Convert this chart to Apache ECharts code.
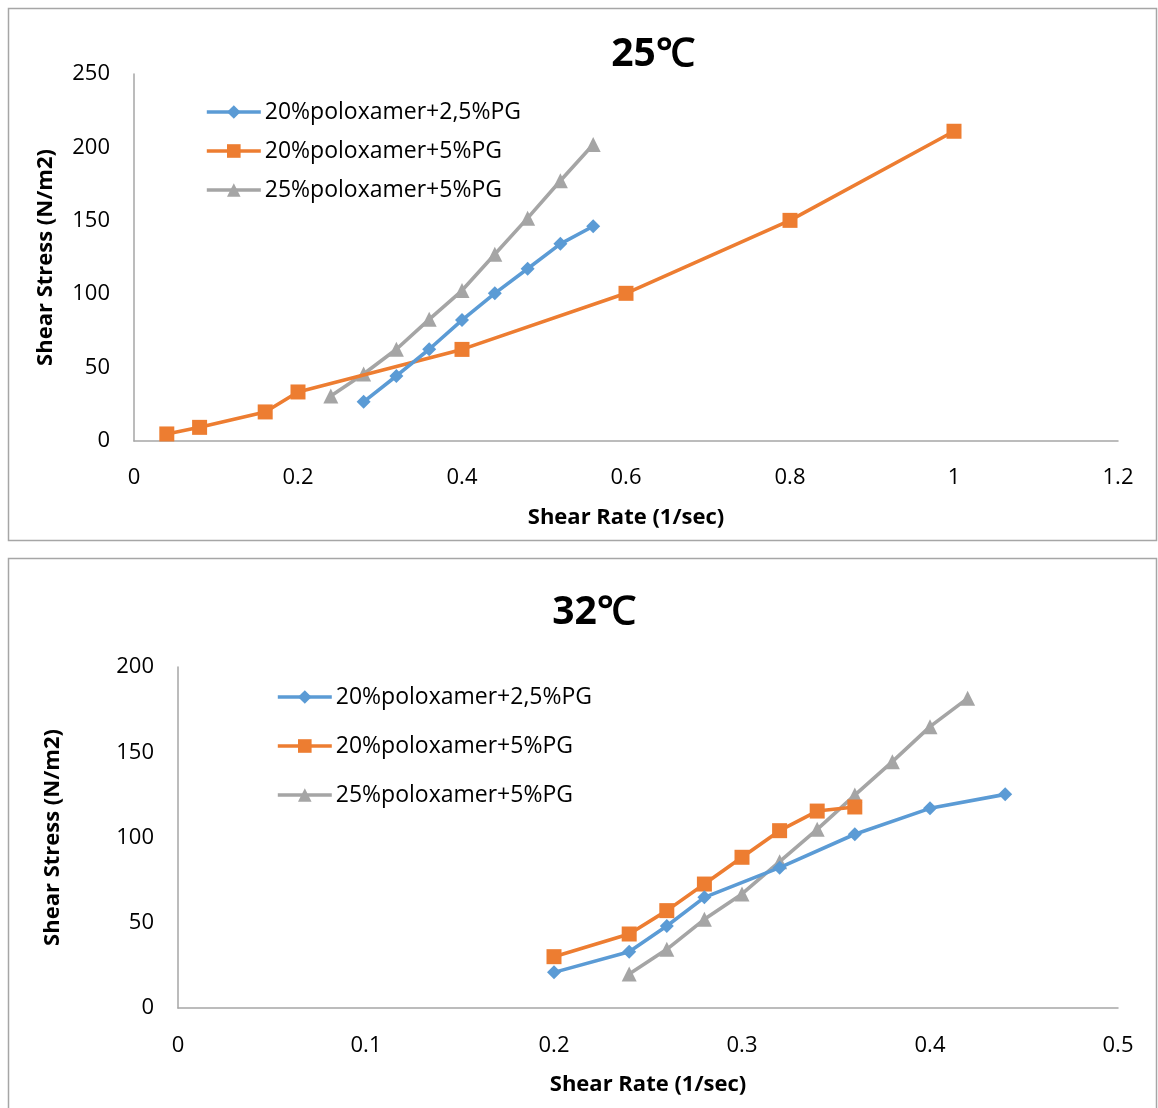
<!DOCTYPE html>
<html><head><meta charset="utf-8">
<script src="https://cdn.jsdelivr.net/npm/echarts@6/dist/echarts.min.js"></script>
<style>html,body{margin:0;padding:0;background:#fff}#c{width:1158px;height:1108px}</style>
</head><body><div id="c"></div>
<script>
const seriesNames = ['20%poloxamer+2,5%PG', '20%poloxamer+5%PG', '25%poloxamer+5%PG'];
// 25 C
const top_blue_x = [0.28, 0.32, 0.36, 0.40, 0.44, 0.48, 0.52, 0.56];
const top_blue_y = [26.7, 44.3, 62.5, 82.4, 100.6, 117.3, 134.3, 146.3];
const top_orange_x = [0.04, 0.08, 0.16, 0.20, 0.40, 0.60, 0.80, 1.00];
const top_orange_y = [4.8, 9.3, 19.8, 33.4, 62.4, 100.6, 150.3, 211];
const top_gray_x = [0.24, 0.28, 0.32, 0.36, 0.40, 0.44, 0.48, 0.52, 0.56];
const top_gray_y = [30.6, 45.6, 62.5, 82.9, 102.5, 127.2, 151.8, 177.3, 202];
// 32 C
const bot_blue_x = [0.20, 0.24, 0.26, 0.28, 0.32, 0.36, 0.40, 0.44];
const bot_blue_y = [20.9, 33, 48.1, 64.9, 82.3, 101.9, 117.1, 125.3];
const bot_orange_x = [0.20, 0.24, 0.26, 0.28, 0.30, 0.32, 0.34, 0.36];
const bot_orange_y = [30.1, 43.4, 57.1, 72.7, 88.4, 104, 115.5, 117.9];
const bot_gray_x = [0.24, 0.26, 0.28, 0.30, 0.32, 0.34, 0.36, 0.38, 0.40, 0.42];
const bot_gray_y = [19.9, 34.4, 52, 66.9, 85.8, 104.8, 124.9, 144.5, 165, 181.6];

const titles = ['25℃', '32℃'];
const xTitle = 'Shear Rate (1/sec)';
const yTitle = 'Shear Stress (N/m2)';

const colors = ['#5B9BD5', '#ED7D31', '#A5A5A5'];
const symbols = ['diamond', 'rect', 'triangle'];
const symSizes = [14, 15, 15];
const FONT = 'Open Sans';

function pairs(xs, ys) { return xs.map((x, i) => [x, ys[i]]); }

const topData = [pairs(top_blue_x, top_blue_y), pairs(top_orange_x, top_orange_y), pairs(top_gray_x, top_gray_y)];
const botData = [pairs(bot_blue_x, bot_blue_y), pairs(bot_orange_x, bot_orange_y), pairs(bot_gray_x, bot_gray_y)];

function mkSeries(data, idx) {
  return data.map((d, i) => ({
    type: 'line', name: seriesNames[i], xAxisIndex: idx, yAxisIndex: idx,
    data: d, symbol: symbols[i], symbolSize: symSizes[i], showSymbol: true,
    lineStyle: { width: 3.6, color: colors[i] }, itemStyle: { color: colors[i] },
    animation: false, z: 3 - i
  }));
}

const axisLine = { show: true, lineStyle: { color: '#a6a6a6', width: 1.5 } };
const nameStyle = { fontSize: 22, fontWeight: 'bold', fontFamily: FONT, color: '#000' };

function xAxis(idx, max, interval, gap, margin) {
  return { type: 'value', gridIndex: idx, min: 0, max: max, interval: interval,
    axisLine: axisLine, axisTick: { show: false }, splitLine: { show: false },
    axisLabel: { color: '#000', fontSize: 22, fontFamily: FONT, margin: margin },
    name: xTitle, nameLocation: 'middle', nameGap: gap, nameTextStyle: nameStyle };
}
function yAxis(idx, max, interval, gap) {
  return { type: 'value', gridIndex: idx, min: 0, max: max, interval: interval,
    axisLine: axisLine, axisTick: { show: false }, splitLine: { show: false },
    axisLabel: { color: '#000', fontSize: 22, fontFamily: FONT, margin: 24 },
    name: yTitle, nameLocation: 'middle', nameRotate: 90, nameGap: gap, nameTextStyle: nameStyle };
}

function legend(left, top, gap) {
  return { orient: 'vertical', left: left, top: top, itemGap: gap, itemWidth: 54, itemHeight: 17,
    padding: 0, lineStyle: { width: 3.6 },
    textStyle: { fontSize: 23, lineHeight: 26, fontFamily: FONT, color: '#000', padding: [0, 0, 0, -1] },
    data: seriesNames };
}

const chart = echarts.init(document.getElementById('c'));
chart.setOption({
  backgroundColor: '#fff',
  animation: false,
  title: [
    { text: titles[0], left: 648, top: 30, textAlign: 'center',
      textStyle: { fontSize: 39, fontWeight: 'bold', fontFamily: FONT, color: '#000' } },
    { text: titles[1], left: 589, top: 588, textAlign: 'center',
      textStyle: { fontSize: 39, fontWeight: 'bold', fontFamily: FONT, color: '#000' } }
  ],
  legend: [legend(205, 99, 13), legend(276, 684, 23)],
  grid: [
    { left: 134, top: 74, width: 984, height: 367 },
    { left: 178, top: 667, width: 940, height: 341 }
  ],
  xAxis: [xAxis(0, 1.2, 0.2, 66, 26), xAxis(1, 0.5, 0.1, 66, 27)],
  yAxis: [yAxis(0, 250, 50, 77), yAxis(1, 200, 50, 114)],
  series: mkSeries(topData, 0).concat(mkSeries(botData, 1)),
  graphic: [
    { type: 'rect', shape: { x: 8.5, y: 8.5, width: 1148, height: 532 },
      style: { fill: 'none', stroke: '#a6a6a6', lineWidth: 1.5 }, silent: true },
    { type: 'rect', shape: { x: 8.5, y: 558.5, width: 1148, height: 560 },
      style: { fill: 'none', stroke: '#a6a6a6', lineWidth: 1.5 }, silent: true }
  ]
});
</script>
</body></html>
